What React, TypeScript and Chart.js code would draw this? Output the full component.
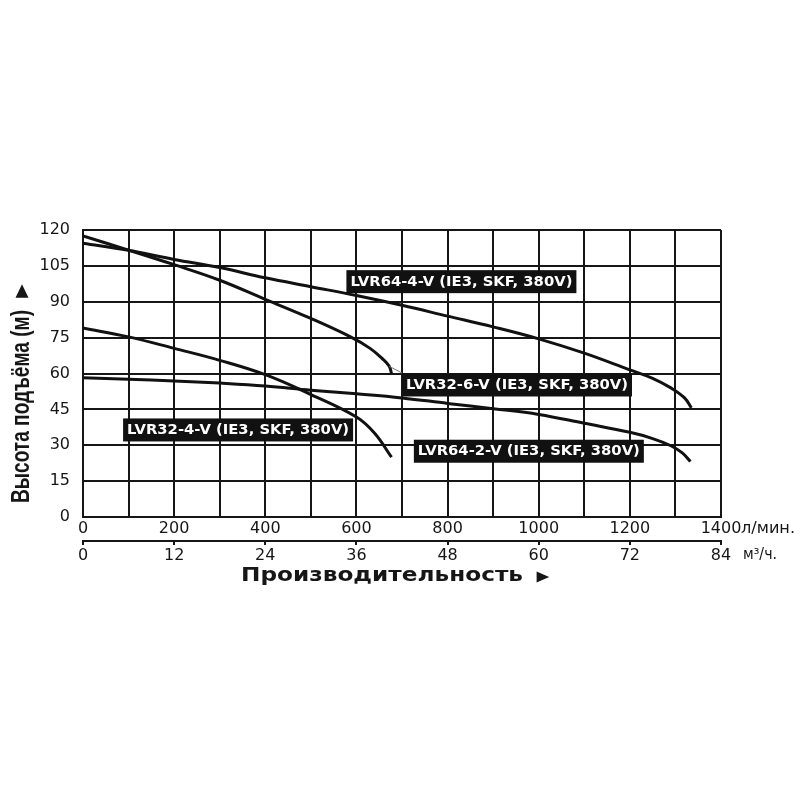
import React, { useEffect, useRef } from "react";
import { Chart, registerables } from "chart.js";

Chart.register(...registerables);

// ---- data (flow in l/min, head in m) ----
const lvr64_4_flow = [0, 100, 200, 300, 400, 500, 600, 700, 800, 900, 1000, 1100, 1200, 1250, 1290, 1320, 1335];
const lvr64_4_head = [114.5, 111.5, 107.7, 104.3, 100, 96.3, 92.6, 88.5, 84, 79.5, 74.5, 68.5, 61.5, 58, 54, 49.8, 45.6];

const lvr32_6_flow = [0, 100, 200, 300, 400, 500, 585, 630, 659, 672, 677];
const lvr32_6_head = [117.5, 111.6, 105.5, 99, 91, 83, 75.5, 70.5, 65.8, 63, 60];

const lvr32_4_flow = [0, 100, 200, 300, 400, 500, 600, 640, 677];
const lvr32_4_head = [79, 75.3, 70.5, 65.5, 59.5, 51.2, 41.8, 35, 25];

const lvr64_2_flow = [0, 100, 200, 300, 400, 500, 600, 700, 800, 900, 1000, 1100, 1200, 1250, 1290, 1315, 1333];
const lvr64_2_head = [58.2, 57.6, 56.9, 56, 54.8, 53, 51.5, 49.8, 47.5, 45.3, 42.9, 39.2, 35.4, 32.8, 29.8, 26.8, 23.2];

const seriesLabels = [
  "LVR64-4-V (IE3, SKF, 380V)",
  "LVR32-6-V (IE3, SKF, 380V)",
  "LVR32-4-V (IE3, SKF, 380V)",
  "LVR64-2-V (IE3, SKF, 380V)",
];
// label anchor (left edge flow, centre head) in data units
const labelFlow = [578, 700, 88, 726];
const labelHead = [98.4, 55.2, 36.4, 27.5];

const flowMax = 1400;
const flowStep = 100;
const flowLabelStep = 200;
const m3Max = 84;
const m3Step = 12;
const headMax = 120;
const headStep = 15;

const flowUnit = "л/мин.";
const m3Unit = "м³/ч.";
const yTitleText = "Высота подъёма (м)";
const xTitleText = "Производительность";

const INK = "#161616";

function toPts(xs: number[], ys: number[]) {
  return xs.map((x, i) => ({ x, y: ys[i] }));
}

function fitText(
  ctx: CanvasRenderingContext2D,
  text: string,
  x: number,
  y: number,
  width: number,
  font: string,
  color: string,
  align: CanvasTextAlign,
  rotate = 0
) {
  ctx.save();
  ctx.font = font;
  const w = ctx.measureText(text).width;
  const s = width / w;
  ctx.translate(x, y);
  if (rotate) ctx.rotate(rotate);
  ctx.scale(s, 1);
  ctx.fillStyle = color;
  ctx.textAlign = align;
  ctx.textBaseline = "middle";
  ctx.fillText(text, 0, 0);
  ctx.restore();
}

function triangle(ctx: CanvasRenderingContext2D, cx: number, cy: number, size: number, dir: "up" | "right") {
  ctx.save();
  ctx.fillStyle = INK;
  ctx.beginPath();
  if (dir === "up") {
    ctx.moveTo(cx, cy - size * 0.6);
    ctx.lineTo(cx + size * 0.5, cy + size * 0.45);
    ctx.lineTo(cx - size * 0.5, cy + size * 0.45);
  } else {
    ctx.moveTo(cx + size * 0.6, cy);
    ctx.lineTo(cx - size * 0.45, cy - size * 0.45);
    ctx.lineTo(cx - size * 0.45, cy + size * 0.45);
  }
  ctx.closePath();
  ctx.fill();
  ctx.restore();
}

const overlay = {
  id: "overlay",
  afterDraw(chart: any) {
    const ctx: CanvasRenderingContext2D = chart.ctx;
    const xs = chart.scales.x;
    const ys = chart.scales.y;
    const x2 = chart.scales.x2;

    // leader line from LVR32-6-V curve end to its label
    const lx0 = xs.getPixelForValue(lvr32_6_flow[lvr32_6_flow.length - 2]);
    const ly0 = ys.getPixelForValue(lvr32_6_head[lvr32_6_head.length - 2]);
    const lx1 = xs.getPixelForValue(labelFlow[1]);
    const ly1 = ys.getPixelForValue(labelHead[1]) - 12;
    ctx.save();
    ctx.strokeStyle = "#777";
    ctx.lineWidth = 1;
    ctx.beginPath();
    ctx.moveTo(lx0, ly0);
    ctx.lineTo(lx1, ly1);
    ctx.stroke();
    ctx.restore();

    // label boxes
    seriesLabels.forEach((t, i) => {
      const bx = xs.getPixelForValue(labelFlow[i]);
      const by = ys.getPixelForValue(labelHead[i]);
      ctx.save();
      ctx.fillStyle = "#111";
      ctx.fillRect(bx, by - 11.5, 230, 23);
      ctx.restore();
      fitText(ctx, t, bx + 4, by + 0.5, 222, "bold 14px 'DejaVu Sans'", "#fff", "left");
    });

    // units
    const xr = xs.getPixelForValue(flowMax);
    fitText(ctx, flowUnit, xr + 20, xs.top + 12, 54, "15px 'DejaVu Sans'", INK, "left");
    const x2r = x2.getPixelForValue(m3Max);
    fitText(ctx, m3Unit, x2r + 22, x2.top + 14, 34, "15px 'DejaVu Sans'", INK, "left");

    // axis titles
    fitText(ctx, xTitleText, 241, 576, 282, "bold 19px 'DejaVu Sans'", INK, "left");
    triangle(ctx, 542, 577, 12, "right");
    fitText(ctx, yTitleText, 22, 503, 193, "bold 26px 'Liberation Sans'", INK, "left", -Math.PI / 2);
    triangle(ctx, 22, 292, 13, "up");
  },
};

export default function App() {
  const ref = useRef<HTMLCanvasElement | null>(null);

  useEffect(() => {
    if (!ref.current) return;
    const line = (xs: number[], ys: number[]) => ({
      data: toPts(xs, ys),
      borderColor: "#111",
      borderWidth: 3,
      pointRadius: 0,
      fill: false,
      tension: 0.4,
    });
    const tickFont = { family: "'DejaVu Sans'", size: 16 };
    const chart = new Chart(ref.current, {
      type: "line",
      data: {
        datasets: [
          { label: seriesLabels[0], ...line(lvr64_4_flow, lvr64_4_head) },
          { label: seriesLabels[1], ...line(lvr32_6_flow, lvr32_6_head) },
          { label: seriesLabels[2], ...line(lvr32_4_flow, lvr32_4_head) },
          { label: seriesLabels[3], ...line(lvr64_2_flow, lvr64_2_head) },
        ],
      },
      options: {
        responsive: false,
        animation: false,
        parsing: false as any,
        layout: { padding: { top: 230, right: 79, bottom: 223, left: 0 } },
        plugins: { legend: { display: false }, tooltip: { enabled: false } },
        scales: {
          x: {
            type: "linear",
            position: "bottom",
            weight: 0,
            min: 0,
            max: flowMax,
            ticks: {
              stepSize: flowStep,
              autoSkip: false,
              maxRotation: 0,
              padding: 2,
              color: INK,
              font: tickFont,
              callback: (v: any) => (Number(v) % flowLabelStep === 0 ? String(v) : ""),
            },
            grid: { color: INK, lineWidth: 2, drawTicks: false },
            border: { color: INK, width: 2 },
            afterFit: (s: any) => {
              s.height = 24;
            },
          },
          x2: {
            type: "linear",
            position: "bottom",
            weight: 1,
            min: 0,
            max: m3Max,
            ticks: {
              stepSize: m3Step,
              autoSkip: false,
              maxRotation: 0,
              padding: 1,
              color: INK,
              font: tickFont,
            },
            grid: { drawOnChartArea: false, drawTicks: true, tickLength: 4, color: INK, lineWidth: 2 },
            border: { color: INK, width: 2 },
            afterFit: (s: any) => {
              s.height = 36;
            },
          },
          y: {
            type: "linear",
            min: 0,
            max: headMax,
            ticks: { stepSize: headStep, padding: 13, color: INK, font: tickFont },
            grid: { color: INK, lineWidth: 2, drawTicks: false },
            border: { color: INK, width: 2 },
            afterFit: (s: any) => {
              s.width = 83;
            },
          },
        },
      },
      plugins: [overlay],
    });
    return () => chart.destroy();
  }, []);

  return (
    <div style={{ position: "absolute", left: 0, top: 0, width: 800, height: 800, background: "#fff" }}>
      <canvas ref={ref} width={800} height={800} />
    </div>
  );
}
